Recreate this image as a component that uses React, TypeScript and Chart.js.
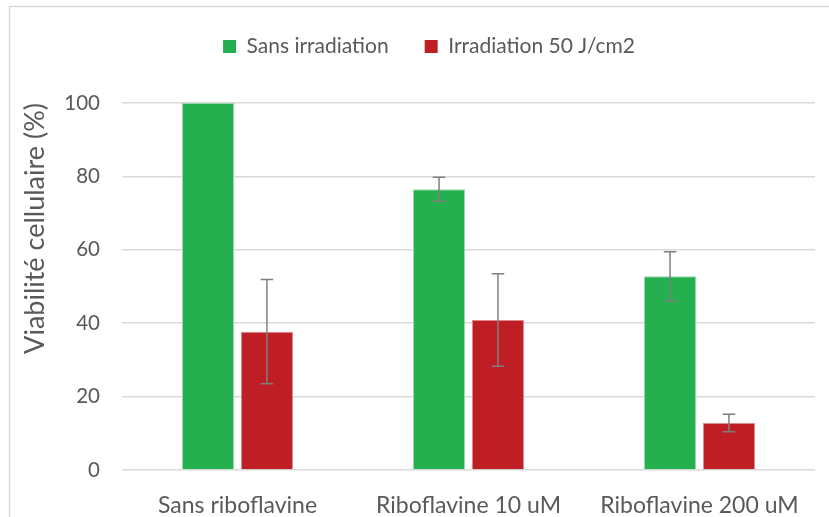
import React, { useEffect, useRef } from "react";
import { Chart, registerables, layouts } from "chart.js";

Chart.register(...registerables);

const categories = ["Sans riboflavine", "Riboflavine 10 uM", "Riboflavine 200 uM"];
const seriesNames = ["Sans irradiation", "Irradiation 50 J/cm2"];
const sansIrradiation = [100, 76.5, 52.8];
const sansIrradiationErr = [0, 3.3, 6.7];
const irradiation50 = [37.7, 40.9, 12.8];
const irradiation50Err = [14.2, 12.6, 2.4];
const yTicks = [0, 20, 40, 60, 80, 100];

const GREEN = "#24B04F";
const RED = "#C01E25";
const TEXT = "#595959";
const GRID = "#D9D9D9";
const FONT = "Lato, 'Open Sans', sans-serif";

const errorBarPlugin = {
  id: "errorBars",
  afterDatasetsDraw(chart: any) {
    const ctx = chart.ctx;
    const yScale = chart.scales.y;
    chart.data.datasets.forEach((ds: any, di: number) => {
      const meta = chart.getDatasetMeta(di);
      const errs: number[] = ds.errors || [];
      meta.data.forEach((bar: any, i: number) => {
        const e = errs[i];
        if (!e) return;
        const v = ds.data[i];
        const top = yScale.getPixelForValue(v + e);
        const bot = yScale.getPixelForValue(v - e);
        const x = bar.x;
        ctx.save();
        ctx.strokeStyle = "#7F7F7F";
        ctx.lineWidth = 1.5;
        ctx.beginPath();
        ctx.moveTo(x, top);
        ctx.lineTo(x, bot);
        ctx.moveTo(x - 6.3, top);
        ctx.lineTo(x + 6.3, top);
        ctx.moveTo(x - 6.3, bot);
        ctx.lineTo(x + 6.3, bot);
        ctx.stroke();
        ctx.restore();
      });
    });
  },
};

const framePlugin = {
  id: "frame",
  beforeDraw(chart: any) {
    const ctx = chart.ctx;
    ctx.save();
    ctx.strokeStyle = GRID;
    ctx.lineWidth = 1.5;
    ctx.beginPath();
    ctx.moveTo(9.5, chart.height);
    ctx.lineTo(9.5, 6.5);
    ctx.lineTo(chart.width, 6.5);
    ctx.stroke();
    ctx.restore();
  },
};

const spacerPlugin = {
  id: "spacer",
  beforeInit(chart: any) {
    const box: any = {
      position: "top",
      weight: 500,
      fullSize: true,
      options: {},
      left: 0,
      top: 0,
      right: 0,
      bottom: 0,
      width: 0,
      height: 0,
      isHorizontal() {
        return true;
      },
      getPadding() {
        return { top: 0, left: 0, right: 0, bottom: 0 };
      },
      update(maxWidth: number) {
        this.width = maxWidth;
        this.height = 36;
      },
      draw() {},
    };
    layouts.addBox(chart, box);
  },
};

export default function App() {
  const ref = useRef<HTMLCanvasElement | null>(null);

  useEffect(() => {
    if (!ref.current) return;
    const LEFT_PAD = 43;
    const TITLE_SIZE = 27;
    const chart = new Chart(ref.current, {
      type: "bar",
      data: {
        labels: categories,
        datasets: [
          {
            label: seriesNames[0],
            data: sansIrradiation,
            errors: sansIrradiationErr,
            backgroundColor: GREEN,
            borderColor: "#9BD9AD",
            borderWidth: 1,
            categoryPercentage: 0.51,
            barPercentage: 0.884,
          } as any,
          {
            label: seriesNames[1],
            data: irradiation50,
            errors: irradiation50Err,
            backgroundColor: RED,
            borderColor: "#DD8A8E",
            borderWidth: 1,
            categoryPercentage: 0.51,
            barPercentage: 0.884,
          } as any,
        ],
      },
      options: {
        responsive: false,
        animation: false,
        devicePixelRatio: 1,
        layout: { padding: { left: LEFT_PAD, right: 14, top: 0, bottom: 0 } },
        plugins: {
          legend: {
            position: "top",
            labels: {
              color: TEXT,
              font: { family: FONT, size: 21 },
              boxWidth: 13,
              boxHeight: 13,
              padding: 36,
              generateLabels(chart: any) {
                const items = (Chart.defaults.plugins.legend.labels as any).generateLabels(chart);
                return items.map((it: any) => ({ ...it, lineWidth: 0, strokeStyle: it.fillStyle }));
              },
            },
          },
          tooltip: { enabled: false },
        },
        scales: {
          x: {
            grid: { display: false },
            border: { display: false },
            ticks: { color: TEXT, font: { family: FONT, size: 23 }, padding: 14, maxRotation: 0 },
            afterFit(scale: any) {
              scale.height = 47;
            },
          },
          y: {
            min: 0,
            max: 100,
            afterBuildTicks(scale: any) {
              scale.ticks = yTicks.map((v) => ({ value: v }));
            },
            grid: { color: GRID, lineWidth: 1.5, drawTicks: false },
            border: { display: false },
            ticks: { color: TEXT, font: { family: FONT, size: 20.5 }, padding: 22 },
            title: {
              display: true,
              text: "Viabilité cellulaire (%)",
              color: TEXT,
              align: "end",
              font: { family: FONT, size: TITLE_SIZE },
              padding: { top: 35 - LEFT_PAD - (TITLE_SIZE * 1.2) / 2, bottom: 0 },
            },
            afterFit(scale: any) {
              scale.width = 122 - LEFT_PAD;
            },
          },
        },
      } as any,
      plugins: [errorBarPlugin, framePlugin, spacerPlugin],
    });
    return () => chart.destroy();
  }, []);

  return (
    <div style={{ position: "absolute", left: 0, top: 0, width: 829, height: 517, background: "#fff" }}>
      <canvas ref={ref} width={829} height={517} style={{ width: 829, height: 517, display: "block" }} />
    </div>
  );
}
